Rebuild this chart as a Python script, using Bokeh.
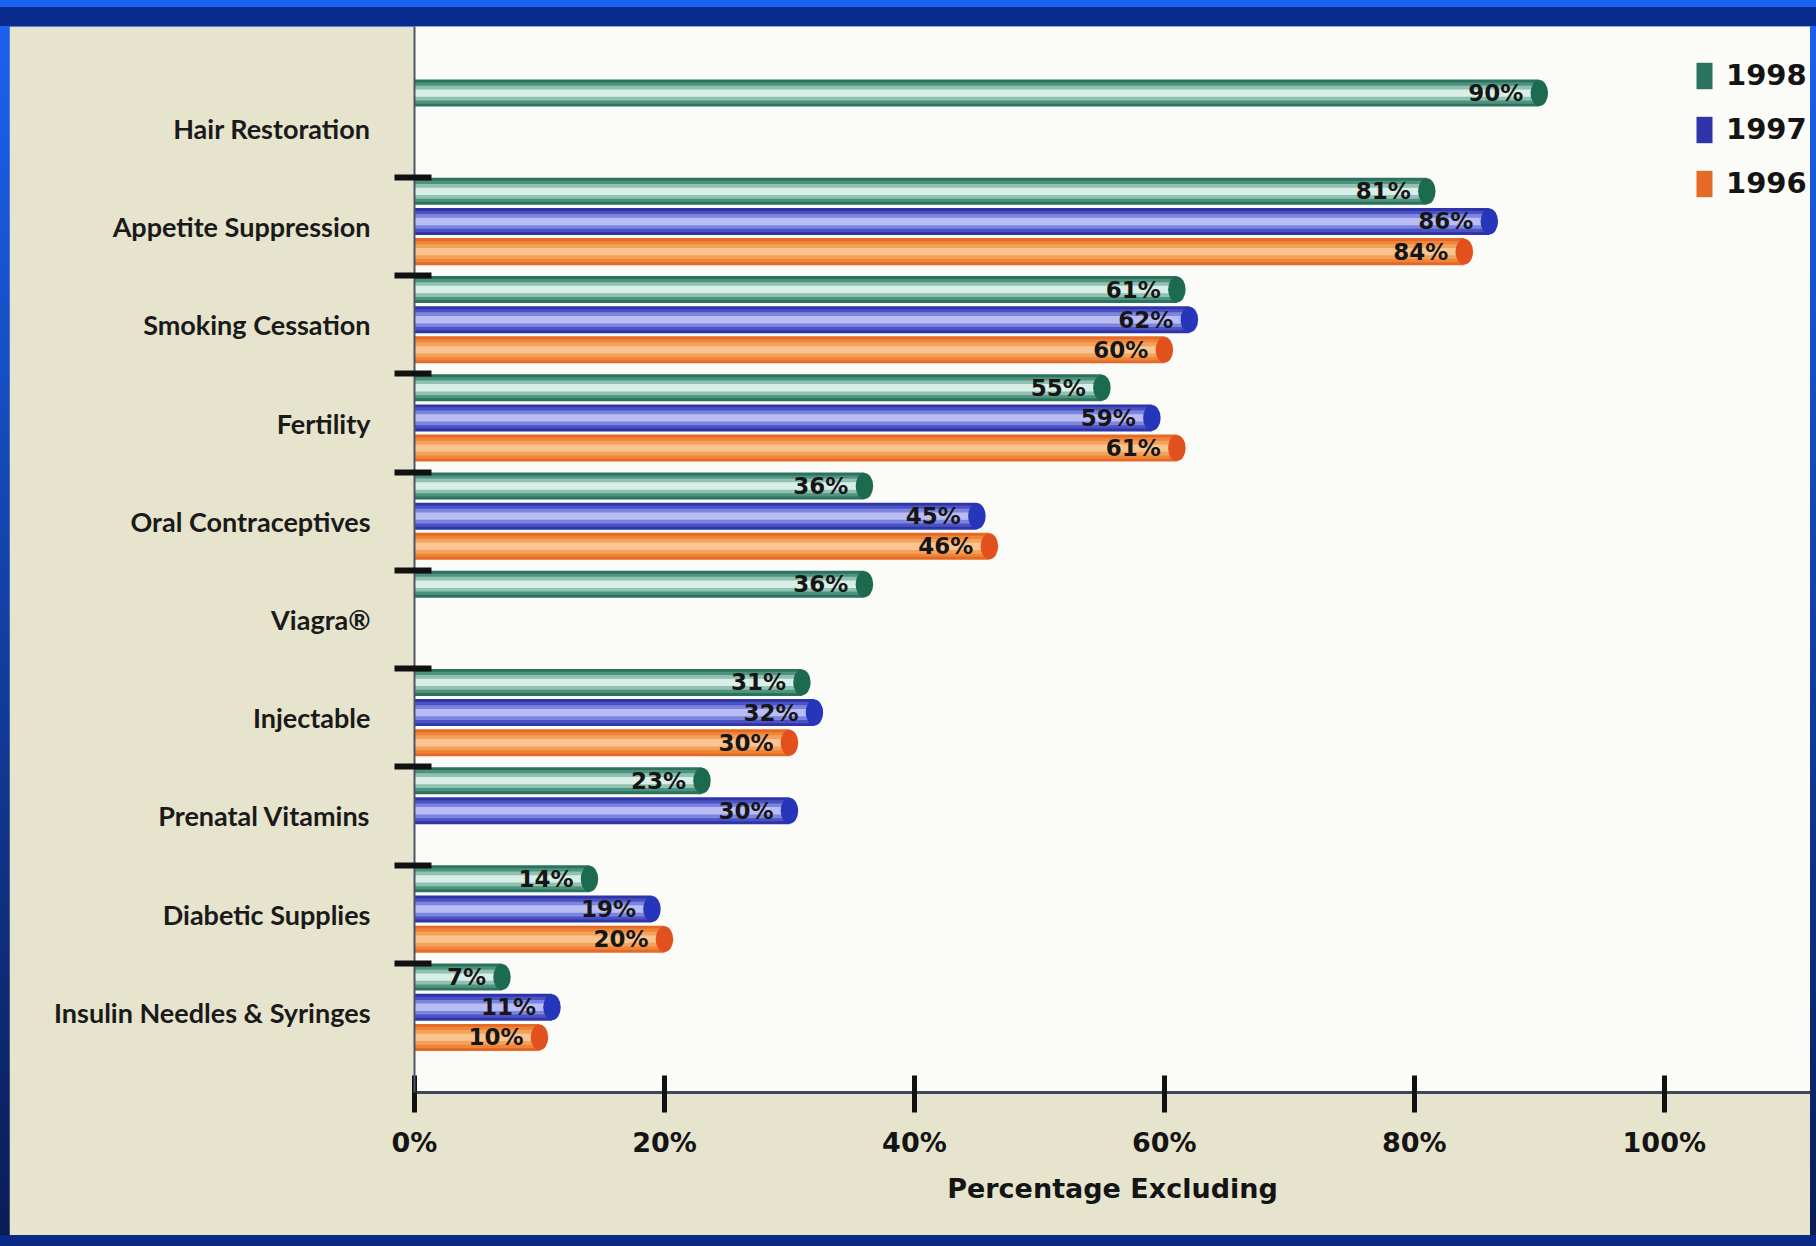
from bokeh.plotting import figure
from bokeh.models import (ColumnDataSource, FixedTicker, PrintfTickFormatter, Legend,
                          LegendItem, Range1d, Column)
from bokeh.core.properties import value
from bokeh.embed import file_html
from bokeh.resources import INLINE

# ---------------- data ----------------
categories = ["Hair Restoration", "Appetite Suppression", "Smoking Cessation", "Fertility",
              "Oral Contraceptives", "Viagra\u00ae", "Injectable", "Prenatal Vitamins",
              "Diabetic Supplies", "Insulin Needles & Syringes"]
years = ["1998", "1997", "1996"]
v1998 = [90, 81, 61, 55, 36, 36, 31, 23, 14, 7]
v1997 = [None, 86, 62, 59, 45, None, 32, 30, 19, 11]
v1996 = [None, 84, 60, 61, 46, None, 30, None, 20, 10]
x_ticks = [0, 20, 40, 60, 80, 100]
x_title = "Percentage Excluding"

# ---------------- styling ----------------
BEIGE = "#e7e4cd"
PLOT_BG = "#fbfbf7"
styles = {
    "1998": dict(shades=["#2a735f", "#4f927e", "#8fc2b1", "#d9eee6"], cap="#1c6a4f", off=0.359),
    "1997": dict(shades=["#2f35a8", "#4b53c4", "#7c84e0", "#b9bdf4"], cap="#2536ba", off=0.052),
    "1996": dict(shades=["#e56a27", "#ee8538", "#f4a25a", "#f9c48f"], cap="#e2501d", off=-0.255),
}
layer_heights = [0.275, 0.215, 0.15, 0.075]

# page border (scan frame) thicknesses
PAD_T, PAD_R, PAD_B, PAD_L = 26, 6, 11, 9
W, H = 1816 - PAD_L - PAD_R, 1246 - PAD_T - PAD_B
n = len(categories)

p = figure(width=W, height=H, output_backend="svg", toolbar_location=None, title=None,
           x_range=Range1d(0, 111.7), y_range=Range1d(-0.316, 10.537),
           min_border_left=405, min_border_right=0, min_border_top=0, min_border_bottom=143,
           background_fill_color=PLOT_BG, border_fill_color=BEIGE, outline_line_color=None)
p.xgrid.visible = False
p.ygrid.visible = False

legend_items = []
for name, vals in zip(years, [v1998, v1997, v1996]):
    st = styles[name]
    ys, xs, labs = [], [], []
    for i, v in enumerate(vals):
        if v is None:
            continue
        ys.append(n - 1 - i + 0.5 + st["off"])
        xs.append(v)
        labs.append(f"{v}%")
    src = ColumnDataSource(dict(y=ys, x=xs, lab=labs))
    base = None
    for hgt, col in zip(layer_heights, st["shades"]):
        r = p.hbar(y="y", left=0, right="x", height=hgt, source=src,
                   fill_color=col, line_color=None)
        if base is None:
            base = r
    # rounded end cap of the cylinder
    p.ellipse(x="x", y="y", width=1.4, height=0.265, source=src,
              fill_color=st["cap"], line_color=None)
    p.text(x="x", y="y", text="lab", source=src, x_offset=-16, text_align="right",
           text_baseline="middle", text_font=value("DejaVu Sans"), text_font_style="bold",
           text_font_size="23px", text_color="#161616")
    legend_items.append(LegendItem(label=name, renderers=[base]))

# ---------------- axes ----------------
centers = [n - 1 - i + 0.5 for i in range(n)]
p.yaxis.ticker = FixedTicker(ticks=centers, minor_ticks=list(range(1, n)))
p.yaxis.major_label_overrides = {c: name for c, name in zip(centers, categories)}
p.yaxis.major_tick_in = 0
p.yaxis.major_tick_out = 0
p.yaxis.minor_tick_in = 17
p.yaxis.minor_tick_out = 20
p.yaxis.minor_tick_line_width = 6
p.yaxis.minor_tick_line_color = "#111111"
p.yaxis.axis_line_color = "#4d5566"
p.yaxis.axis_line_width = 2
p.yaxis.major_label_standoff = 24
p.yaxis.major_label_text_font = "Lato"
p.yaxis.major_label_text_font_style = "bold"
p.yaxis.major_label_text_font_size = "27px"
p.yaxis.major_label_text_color = "#1a1a1a"

p.xaxis.ticker = FixedTicker(ticks=x_ticks, minor_ticks=[])
p.xaxis.formatter = PrintfTickFormatter(format="%d%%")
p.xaxis.axis_label = x_title
p.xaxis.axis_line_color = "#3f4656"
p.xaxis.axis_line_width = 3
p.xaxis.major_tick_in = 17
p.xaxis.major_tick_out = 20
p.xaxis.major_tick_line_width = 5
p.xaxis.major_tick_line_color = "#111111"
p.xaxis.major_label_standoff = 14
p.xaxis.major_label_text_font = "DejaVu Sans"
p.xaxis.major_label_text_font_style = "bold"
p.xaxis.major_label_text_font_size = "27px"
p.xaxis.major_label_text_color = "#141414"
p.xaxis.axis_label_standoff = 12
p.xaxis.axis_label_text_font = "DejaVu Sans"
p.xaxis.axis_label_text_font_style = "bold"
p.xaxis.axis_label_text_font_size = "27px"
p.xaxis.axis_label_text_color = "#141414"

legend = Legend(items=legend_items, location=(1280, 892), orientation="vertical",
                glyph_width=20, glyph_height=33, label_standoff=12, spacing=20,
                padding=0, margin=0, background_fill_alpha=0, border_line_color=None,
                label_text_font="DejaVu Sans", label_text_font_style="bold",
                label_text_font_size="29px", label_text_color="#141414")
p.add_layout(legend)

# ---------------- page frame (blue scan border) via CSS ----------------
bg = ("linear-gradient(to bottom, #1b63f2 0px, #1b63f2 7px, #0a2b8e 7px, #0a2b8e 26px, "
      "rgba(0,0,0,0) 26px), "
      "linear-gradient(to top, #0b2a88 0px, #0b2a88 11px, rgba(0,0,0,0) 11px), "
      "linear-gradient(to bottom, #1b63f2, #0a1c55)")
root = Column(children=[p], styles={
    "padding": f"{PAD_T}px {PAD_R}px {PAD_B}px {PAD_L}px",
    "background": bg,
})

open("out.html", "w").write(file_html(root, INLINE))
